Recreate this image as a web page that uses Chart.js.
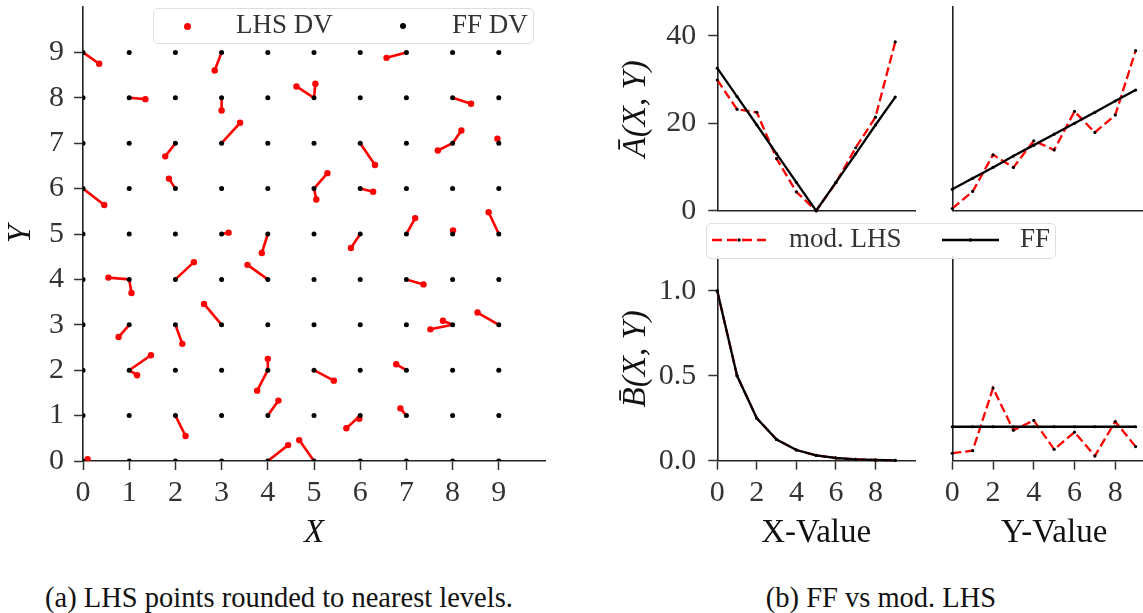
<!DOCTYPE html>
<html>
<head>
<meta charset="utf-8">
<script src="https://cdn.jsdelivr.net/npm/chart.js@4.4.0/dist/chart.umd.min.js"></script>
<style>
  html, body { margin: 0; padding: 0; background: #fff; }
  #page { position: relative; width: 1143px; height: 613px; overflow: hidden; font-family: "Liberation Serif", serif; }
  #page canvas { position: absolute; }
  .legend { position: absolute; box-sizing: border-box; border: 1.5px solid #dedede; border-radius: 5px; background: rgba(255,255,255,0.85); }
  .legend span { position: absolute; font-size: 27px; line-height: 27px; color: #333; white-space: nowrap; }
  .dot { position: absolute; border-radius: 50%; }
  .legend svg { position: absolute; }
  .caption { position: absolute; font-size: 28.5px; line-height: 28.5px; color: #111; white-space: nowrap; transform: translateX(-50%); }
</style>
</head>
<body>
<div id="page">
  <canvas id="scatterChart" width="560" height="560" style="left:0;top:0"></canvas>
  <canvas id="aXChart" width="340" height="230" style="left:590px;top:0"></canvas>
  <canvas id="aYChart" width="230" height="230" style="left:930px;top:0"></canvas>
  <canvas id="bXChart" width="340" height="330" style="left:590px;top:230px"></canvas>
  <canvas id="bYChart" width="230" height="330" style="left:930px;top:230px"></canvas>

  <div class="legend" style="left:153px;top:8px;width:381px;height:36px">
    <div class="dot" style="left:30px;top:14px;width:7px;height:7px;background:#ff0000"></div>
    <span style="left:82px;top:2px">LHS DV</span>
    <div class="dot" style="left:246px;top:14px;width:6px;height:6px;background:#000"></div>
    <span style="left:298px;top:2px">FF DV</span>
  </div>

  <div class="legend" style="left:706px;top:223px;width:350px;height:36px">
    <svg width="60" height="10" style="left:5px;top:11px">
      <line x1="0" y1="5" x2="54" y2="5" stroke="#ff0000" stroke-width="2.4" stroke-dasharray="10 5"></line>
      <circle cx="27" cy="5" r="1.7" fill="#000"></circle>
    </svg>
    <span style="left:82px;top:1px">mod. LHS</span>
    <svg width="60" height="10" style="left:235px;top:11px">
      <line x1="0" y1="5" x2="57" y2="5" stroke="#000" stroke-width="2.4"></line>
      <circle cx="28.5" cy="5" r="1.7" fill="#000"></circle>
    </svg>
    <span style="left:313px;top:1px">FF</span>
  </div>

  <div class="caption" style="left:279px;top:584px">(a) LHS points rounded to nearest levels.</div>
  <div class="caption" style="left:881px;top:584px">(b) FF vs mod. LHS</div>
</div>

<script>
// Factor levels shared by both panels
const levels = [0, 1, 2, 3, 4, 5, 6, 7, 8, 9];
const bTicks = [0, 2, 4, 6, 8];

// LHS design points (before rounding to the nearest level)
const lhsX = [0.35, 2.85, 1.35, 3.00, 3.40, 1.78, 1.86, 0.46, 4.62, 3.15,
              6.57, 5.03, 8.40, 8.19, 7.68, 8.97, 6.32, 5.29, 5.05, 6.28,
              7.19, 8.01, 8.78, 3.87, 0.55, 1.05, 2.40, 3.56, 2.62, 0.77,
              2.15, 1.47, 1.17, 4.00, 3.77, 4.23, 2.22, 0.10, 4.44, 4.68,
              5.80, 7.37, 7.79, 7.52, 8.54, 5.43, 6.78, 6.87, 5.70, 5.98];
const lhsY = [8.75, 8.60, 7.97, 7.72, 7.45, 6.71, 6.22, 5.64, 8.25, 5.03,
              8.88, 8.31, 7.87, 7.28, 6.84, 7.10, 6.52, 6.34, 5.76, 5.93,
              5.35, 5.08, 5.48, 4.58, 4.04, 3.70, 4.38, 4.32, 3.46, 2.73,
              2.58, 2.33, 1.89, 2.25, 1.55, 1.33, 0.55, 0.04, 0.35, 0.46,
              4.69, 3.89, 3.09, 2.90, 3.27, 1.77, 2.13, 1.16, 0.72, 0.93];

// Main effects, full factorial vs modified LHS
const aXTicks = [0, 20, 40];
const aX_FF  = [32.6, 26.1, 19.6, 13.0, 6.5, 0.0, 6.5, 13.0, 19.6, 26.0];
const aX_LHS = [29.9, 23.2, 22.5, 11.9, 4.3, 0.0, 6.4, 14.4, 21.4, 38.6];
const aY_FF  = [4.9, 7.4, 9.9, 12.5, 15.0, 17.5, 20.0, 22.5, 25.1, 27.6];
const aY_LHS = [0.5, 4.4, 12.8, 9.9, 16.0, 13.9, 22.7, 17.9, 21.9, 36.6];

const bXTicks = [0, 0.5, 1.0];
const bX_FF  = [1.0, 0.5, 0.25, 0.125, 0.063, 0.031, 0.016, 0.008, 0.004, 0.002];
const bX_LHS = [1.0, 0.5, 0.25, 0.125, 0.063, 0.031, 0.016, 0.008, 0.004, 0.002];
const bY_FF  = [0.2, 0.2, 0.2, 0.2, 0.2, 0.2, 0.2, 0.2, 0.2, 0.2];
const bY_LHS = [0.044, 0.059, 0.428, 0.180, 0.237, 0.067, 0.168, 0.028, 0.231, 0.083];

const SERIF = "'Liberation Serif', 'Times New Roman', serif";
const tickFont = { family: SERIF, size: 30 };
const titleFont = { family: SERIF, size: 33, style: 'italic' };
const plainTitleFont = { family: SERIF, size: 33 };
const INK = '#222';
const TICK_INK = '#333';

Chart.defaults.animation = false;
Chart.defaults.plugins.legend.display = false;
Chart.defaults.plugins.tooltip.enabled = false;

// axis builder: fixed thickness so the plot boxes line up exactly
function axis(opts) {
  const s = {
    type: 'linear',
    min: opts.min,
    max: opts.max,
    border: { display: true, color: INK, width: 1.6 },
    grid: { drawOnChartArea: false, drawTicks: !!opts.ticks, tickLength: 9, tickColor: TICK_INK, tickWidth: 1.5 },
    ticks: { display: !!opts.ticks, font: tickFont, color: TICK_INK, padding: opts.tickPad != null ? opts.tickPad : 5 },
    title: opts.title ? { display: true, text: opts.title, font: opts.titleFont || titleFont, color: '#111', padding: opts.titlePad } : { display: false },
    afterFit(scale) {
      if (opts.width != null) scale.width = opts.width;
      if (opts.height != null) scale.height = opts.height;
      scale.paddingLeft = 0; scale.paddingRight = 0;
      scale.paddingTop = 0; scale.paddingBottom = 0;
    }
  };
  if (opts.ticks) {
    s.afterBuildTicks = scale => { scale.ticks = opts.ticks.map(v => ({ value: v })); };
    if (opts.fmt) s.ticks.callback = opts.fmt;
  }
  return s;
}

// ---------- (a) LHS points rounded to the nearest levels ----------
const gridPoints = [];
levels.forEach(x => levels.forEach(y => gridPoints.push({ x, y })));

const segments = lhsX.map((x, i) => ({
  data: [{ x, y: lhsY[i] }, { x: Math.round(x), y: Math.round(lhsY[i]) }],
  showLine: true,
  borderColor: '#ff0000',
  borderWidth: 2.6,
  pointRadius: [3.2, 0],
  pointBackgroundColor: '#ff0000',
  pointBorderWidth: 0,
  order: 1
}));

new Chart(document.getElementById('scatterChart'), {
  type: 'scatter',
  data: {
    datasets: [
      { label: 'FF DV', data: gridPoints, pointRadius: 2.5, pointBackgroundColor: '#000', pointBorderWidth: 0, order: 0 },
      ...segments
    ]
  },
  options: {
    responsive: false,
    layout: { padding: { left: 0, top: 7, right: 15, bottom: 0 } },
    scales: {
      x: axis({ min: 0, max: 10, ticks: levels, height: 99, title: 'X', titlePad: { top: 0, bottom: 7 } }),
      y: axis({ min: 0, max: 10, ticks: levels, width: 83, tickPad: 10, title: 'Y', titlePad: { top: 2, bottom: 0 } })
    }
  }
});

// ---------- (b) FF vs mod. LHS ----------
function series(xs, ys, color, dashed) {
  return {
    data: xs.map((x, i) => ({ x, y: ys[i] })),
    showLine: true,
    borderColor: color,
    borderWidth: 2.3,
    borderDash: dashed ? [9, 4] : [],
    pointRadius: 1.6,
    pointBackgroundColor: '#000',
    pointBorderWidth: 0,
    order: dashed ? 1 : 0,
    clip: false
  };
}

function effectChart(id, lhs, ff, xAxis, yAxis) {
  new Chart(document.getElementById(id), {
    type: 'scatter',
    data: { datasets: [series(levels, ff, '#000', false), series(levels, lhs, '#ff0000', true)] },
    options: {
      responsive: false,
      layout: { padding: xAxis.pad },
      scales: { x: axis(xAxis), y: axis(yAxis) }
    }
  });
}

const fmt1 = v => v.toFixed(1);

effectChart('aXChart', aX_LHS, aX_FF,
  { min: 0, max: 10, height: 19.3, pad: { left: 0, top: 7, right: 15, bottom: 0 } },
  { min: 0, max: 46.6, ticks: aXTicks, width: 127.3, tickPad: 12, title: 'Ā(X, Y)', titlePad: { top: 27, bottom: 0 } });

effectChart('aYChart', aY_LHS, aY_FF,
  { min: 0, max: 10, height: 19.3, pad: { left: 0, top: 7, right: 0, bottom: 0 } },
  { min: 0, max: 46.6, width: 22.3 });

effectChart('bXChart', bX_LHS, bX_FF,
  { min: 0, max: 10, ticks: bTicks, height: 99.3, title: 'X-Value', titleFont: plainTitleFont, titlePad: { top: 0, bottom: 7 }, pad: { left: 0, top: 27, right: 15, bottom: 0 } },
  { min: 0, max: 1.2, ticks: bXTicks, fmt: fmt1, width: 127.3, tickPad: 12, title: 'B̄(X, Y)', titlePad: { top: 27, bottom: 0 } });

effectChart('bYChart', bY_LHS, bY_FF,
  { min: 0, max: 10, ticks: bTicks, height: 99.3, title: 'Y-Value', titleFont: plainTitleFont, titlePad: { top: 0, bottom: 7 }, pad: { left: 0, top: 27, right: 0, bottom: 0 } },
  { min: 0, max: 1.2, width: 22.3 });
</script>
</body>
</html>
